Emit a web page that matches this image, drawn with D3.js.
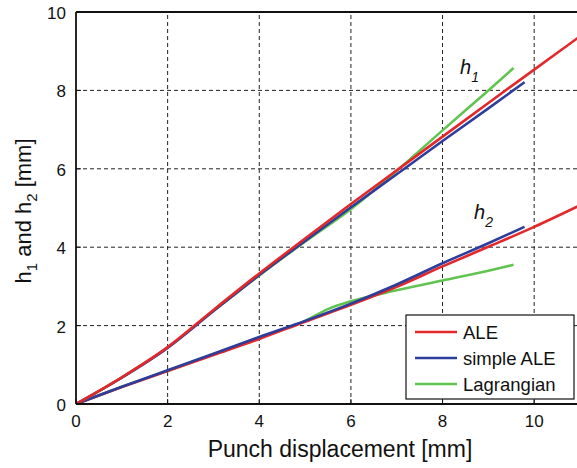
<!DOCTYPE html>
<html>
<head>
<meta charset="utf-8">
<script src="https://cdn.jsdelivr.net/npm/d3@7"></script>
<style>
  body { margin: 0; background: #fff; }
  svg { display: block; font-family: "Liberation Sans", Arial, Helvetica, sans-serif; }
</style>
</head>
<body>
<svg id="chart" width="577" height="468"></svg>
<script>
// tick values
const xTicks = [0, 2, 4, 6, 8, 10];
const yTicks = [0, 2, 4, 6, 8, 10];

// h1 curves (punch displacement vs height)
const aleH1X = [0, 1, 2, 3, 4, 5, 6, 7, 8, 9, 10, 11];
const aleH1Y = [0, 0.68, 1.45, 2.4, 3.33, 4.22, 5.1, 5.96, 6.82, 7.68, 8.53, 9.38];
const simpleH1X = [0, 1, 2, 3, 4, 5, 6, 7, 8, 9, 9.79];
const simpleH1Y = [0, 0.67, 1.43, 2.37, 3.29, 4.16, 5.02, 5.86, 6.71, 7.54, 8.21];
const lagH1X = [0, 1, 2, 3, 4, 5, 5.5, 6, 7, 8, 9, 9.55];
const lagH1Y = [0, 0.68, 1.44, 2.37, 3.28, 4.14, 4.55, 4.97, 5.95, 6.98, 8.0, 8.57];

// h2 curves
const aleH2X = [0, 1, 2, 3, 4, 5, 6, 7, 8, 9, 10, 11];
const aleH2Y = [0, 0.43, 0.84, 1.25, 1.66, 2.1, 2.53, 2.99, 3.51, 4.01, 4.52, 5.07];
const simpleH2X = [0, 1, 2, 3, 4, 5, 6, 7, 8, 9, 9.79];
const simpleH2Y = [0, 0.44, 0.86, 1.28, 1.71, 2.12, 2.56, 3.05, 3.59, 4.1, 4.52];
const lagH2X = [0, 1, 2, 3, 4, 5, 5.5, 6, 7, 8, 9, 9.55];
const lagH2Y = [0, 0.44, 0.85, 1.27, 1.7, 2.12, 2.42, 2.62, 2.9, 3.15, 3.4, 3.55];

const seriesNames = ['ALE', 'simple ALE', 'Lagrangian'];
const seriesColors = ['#e3282b', '#2d3d9c', '#62c450'];

const svg = d3.select('#chart');
const margin = { top: 12, left: 76 };
const plotW = 504;   // axis runs to x = 11, a bit past the right edge
const plotH = 392;

const x = d3.scaleLinear().domain([0, 11]).range([margin.left, margin.left + plotW]);
const y = d3.scaleLinear().domain([0, 10]).range([margin.top + plotH, margin.top]);

svg.append('defs').append('clipPath').attr('id', 'plotClip')
  .append('rect')
  .attr('x', x(0)).attr('y', y(10))
  .attr('width', plotW).attr('height', plotH);

// grid
const grid = svg.append('g').attr('stroke', '#222').attr('stroke-width', 1)
  .attr('stroke-dasharray', '4,3');
grid.selectAll('.vg').data(xTicks.filter(d => d > 0))
  .join('line')
  .attr('x1', d => x(d)).attr('x2', d => x(d))
  .attr('y1', y(0)).attr('y2', y(10));
grid.selectAll('.hg').data(yTicks.filter(d => d > 0 && d < 10))
  .join('line')
  .attr('x1', x(0)).attr('x2', x(11))
  .attr('y1', d => y(d)).attr('y2', d => y(d));

// curves
const line = d3.line().x(d => x(d[0])).y(d => y(d[1])).curve(d3.curveMonotoneX);
const curves = [
  { xs: lagH2X, ys: lagH2Y, c: 2 },
  { xs: aleH2X, ys: aleH2Y, c: 0 },
  { xs: simpleH2X, ys: simpleH2Y, c: 1 },
  { xs: lagH1X, ys: lagH1Y, c: 2 },
  { xs: simpleH1X, ys: simpleH1Y, c: 1 },
  { xs: aleH1X, ys: aleH1Y, c: 0 }
];
svg.append('g').attr('clip-path', 'url(#plotClip)')
  .selectAll('path').data(curves)
  .join('path')
  .attr('d', d => line(d.xs.map((v, i) => [v, d.ys[i]])))
  .attr('fill', 'none')
  .attr('stroke', d => seriesColors[d.c])
  .attr('stroke-width', 2.6);

// axes box
const frame = svg.append('g').attr('stroke', '#111').attr('stroke-width', 1.8).attr('fill', 'none');
frame.append('line').attr('x1', x(0)).attr('x2', x(11)).attr('y1', y(10)).attr('y2', y(10));
frame.append('line').attr('x1', x(0)).attr('x2', x(11)).attr('y1', y(0)).attr('y2', y(0));
frame.append('line').attr('x1', x(0)).attr('x2', x(0)).attr('y1', y(0)).attr('y2', y(10));

// tick marks (inward)
const ticks = svg.append('g').attr('stroke', '#111').attr('stroke-width', 1);
ticks.selectAll('.xt').data(xTicks).join('line')
  .attr('x1', d => x(d)).attr('x2', d => x(d))
  .attr('y1', y(0)).attr('y2', y(0) - 5);
ticks.selectAll('.yt').data(yTicks).join('line')
  .attr('x1', x(0)).attr('x2', x(0) + 5)
  .attr('y1', d => y(d)).attr('y2', d => y(d));

// tick labels
svg.append('g').selectAll('text').data(xTicks).join('text')
  .attr('x', d => x(d)).attr('y', y(0) + 23)
  .attr('text-anchor', 'middle')
  .attr('font-size', 17).attr('fill', '#111')
  .text(d => d);
svg.append('g').selectAll('text').data(yTicks).join('text')
  .attr('x', x(0) - 10).attr('y', d => y(d) + 7)
  .attr('text-anchor', 'end')
  .attr('font-size', 17).attr('fill', '#111')
  .text(d => d);

// axis titles
svg.append('text')
  .attr('x', 340).attr('y', 457)
  .attr('text-anchor', 'middle')
  .attr('font-size', 23).attr('fill', '#111')
  .text('Punch displacement [mm]');

const yTitle = svg.append('text')
  .attr('transform', 'translate(31,211) rotate(-90)')
  .attr('text-anchor', 'middle')
  .attr('font-size', 22).attr('fill', '#111');
yTitle.append('tspan').text('h');
yTitle.append('tspan').attr('font-size', 15).attr('dy', 6).text('1');
yTitle.append('tspan').attr('dy', -6).text(' and h');
yTitle.append('tspan').attr('font-size', 15).attr('dy', 6).text('2');
yTitle.append('tspan').attr('dy', -6).text(' [mm]');

// curve labels
const lab1 = svg.append('text').attr('x', 460).attr('y', 74)
  .attr('font-size', 20).attr('font-style', 'italic').attr('fill', '#111');
lab1.append('tspan').text('h');
lab1.append('tspan').attr('font-size', 14).attr('dy', 8).text('1');
const lab2 = svg.append('text').attr('x', 474).attr('y', 219)
  .attr('font-size', 20).attr('font-style', 'italic').attr('fill', '#111');
lab2.append('tspan').text('h');
lab2.append('tspan').attr('font-size', 14).attr('dy', 8).text('2');

// legend
const legend = svg.append('g').attr('transform', 'translate(406,315)');
legend.append('rect')
  .attr('width', 168).attr('height', 84)
  .attr('fill', '#fff').attr('stroke', '#111').attr('stroke-width', 1.2);
const rows = legend.selectAll('g.row').data(seriesNames).join('g')
  .attr('transform', (d, i) => `translate(0,${17 + i * 26})`);
rows.append('line')
  .attr('x1', 9).attr('x2', 51)
  .attr('stroke', (d, i) => seriesColors[i]).attr('stroke-width', 2.6);
rows.append('text')
  .attr('x', 57).attr('y', 6.5)
  .attr('font-size', 18.5).attr('fill', '#111')
  .text(d => d);
</script>
</body>
</html>
